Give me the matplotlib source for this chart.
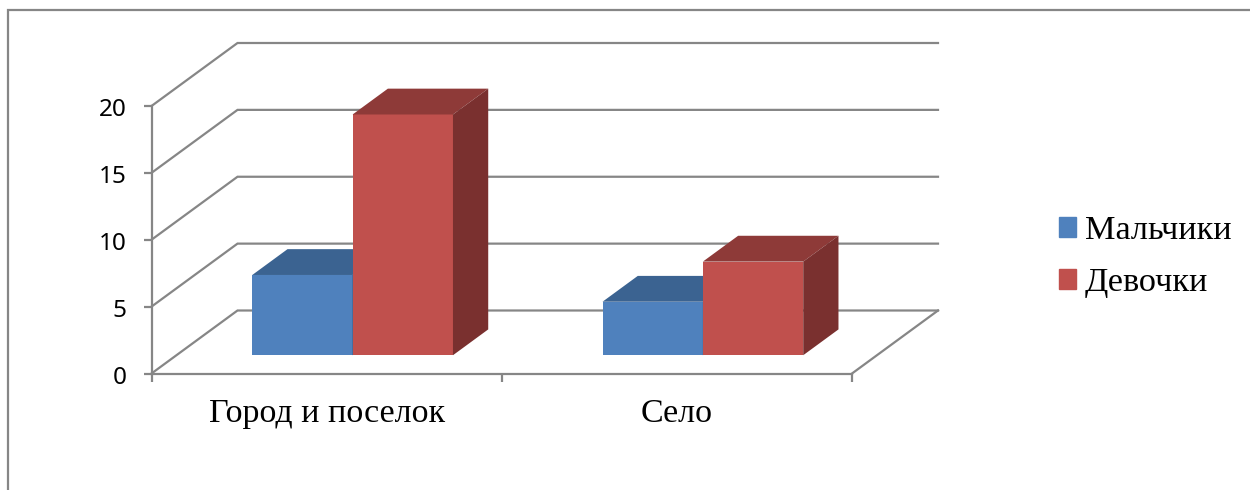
import matplotlib
matplotlib.use("Agg")
import matplotlib.pyplot as plt
from matplotlib.lines import Line2D
from matplotlib.patches import Patch
from matplotlib.transforms import Affine2D

categories = ["Город и поселок", "Село"]
series_names = ["Мальчики", "Девочки"]
boys = [6, 4]
girls = [18, 7]
y_ticks = [0, 5, 10, 15, 20]

GREY = "#868686"
LINE_W = 1.6
BLUE = ("#4F81BD", "#3B6391", "#325479")   # front, top, side
RED = ("#C0504D", "#8E3A38", "#7A302F")

W, H = 1250, 490
LEFT, RIGHT, TOP, BOTTOM = 151.5, 852, 106, 373.5
# how far the back wall is shifted from the front, in data units
DEPTH_X = 86 / ((RIGHT - LEFT) / 2)
DEPTH_Y = 63 / ((BOTTOM - TOP) / 20)
BAR_W = 0.2865
BAR_SHIFT = 0.003
BAR_D0, BAR_D1 = 0.29, 0.70


def oblique(x, v, d):
    """Project category x, value v and depth d (0 front, 1 back) to data coords."""
    return x + d * DEPTH_X, v + d * DEPTH_Y


def draw_box(ax, x0, value, colors):
    x1 = x0 + BAR_W
    bottom = oblique(x0, 0, BAR_D0)
    ax.bar(bottom[0], value, BAR_W, bottom=bottom[1], align="edge",
           color=colors[0], zorder=3, clip_on=False)
    top = [oblique(x0, value, BAR_D0), oblique(x1, value, BAR_D0),
           oblique(x1, value, BAR_D1), oblique(x0, value, BAR_D1)]
    side = [oblique(x1, 0, BAR_D0), oblique(x1, value, BAR_D0),
            oblique(x1, value, BAR_D1), oblique(x1, 0, BAR_D1)]
    ax.fill(*zip(*top), color=colors[1], lw=0, zorder=3, clip_on=False)
    ax.fill(*zip(*side), color=colors[2], lw=0, zorder=3, clip_on=False)


fig = plt.figure(figsize=(W / 100, H / 100), dpi=100)
ax = fig.add_axes([LEFT / W, 1 - BOTTOM / H, (RIGHT - LEFT) / W, (BOTTOM - TOP) / H])
ax.patch.set_alpha(0)
ax.set_xlim(0, len(categories))
ax.set_ylim(0, y_ticks[-1])

# walls and floor
for v in y_ticks:
    ax.plot(*zip(oblique(0, v, 0), oblique(0, v, 1), oblique(2, v, 1)),
            color=GREY, lw=LINE_W, zorder=1, clip_on=False, solid_joinstyle="miter")
ax.plot(*zip(oblique(2, 0, 1), oblique(2, 0, 0)), color=GREY, lw=LINE_W, zorder=1, clip_on=False)

for i in range(len(categories)):
    x0 = i + 0.5 - BAR_W + BAR_SHIFT
    draw_box(ax, x0, boys[i], BLUE)
    draw_box(ax, x0 + BAR_W, girls[i], RED)

for name in ["top", "right"]:
    ax.spines[name].set_visible(False)
for name in ["left", "bottom"]:
    ax.spines[name].set_color(GREY)
    ax.spines[name].set_linewidth(LINE_W)

ax.set_yticks(y_ticks)
ax.tick_params(axis="y", length=6, width=LINE_W, color=GREY, pad=12)
for label in ax.get_yticklabels():
    label.set_fontfamily("Noto Sans")
    label.set_fontsize(17.5)
    # the labels sit a little under their ticks in the original
    label.set_transform(label.get_transform() + Affine2D().translate(0, -1))

ax.set_xticks([0, 1, 2])
ax.set_xticklabels([])
ax.tick_params(axis="x", which="major", length=6, width=LINE_W, color=GREY)
ax.set_xticks([i + 0.5 for i in range(len(categories))], categories, minor=True)
ax.tick_params(axis="x", which="minor", length=0, pad=18)
for label in ax.get_xticklabels(minor=True):
    label.set_fontfamily("Liberation Serif")
    label.set_fontsize(24.5)

handles = [Patch(color=BLUE[0]), Patch(color=RED[0])]
fig.legend(handles, series_names, loc="center left",
           bbox_to_anchor=(1059 / W, 1 - 257 / H), frameon=False,
           prop={"family": "Liberation Serif", "size": 24.7},
           handlelength=0.5, handleheight=0.5, handletextpad=0.26,
           labelspacing=0.62, borderpad=0, borderaxespad=0)

# chart area border, cut off by the crop on the right and bottom
fig.add_artist(Line2D([8 / W, 8 / W, 1], [0, 1 - 10.5 / H, 1 - 10.5 / H],
                      color=GREY, lw=LINE_W, solid_joinstyle="miter"))

fig.savefig("out.png", dpi=100)
